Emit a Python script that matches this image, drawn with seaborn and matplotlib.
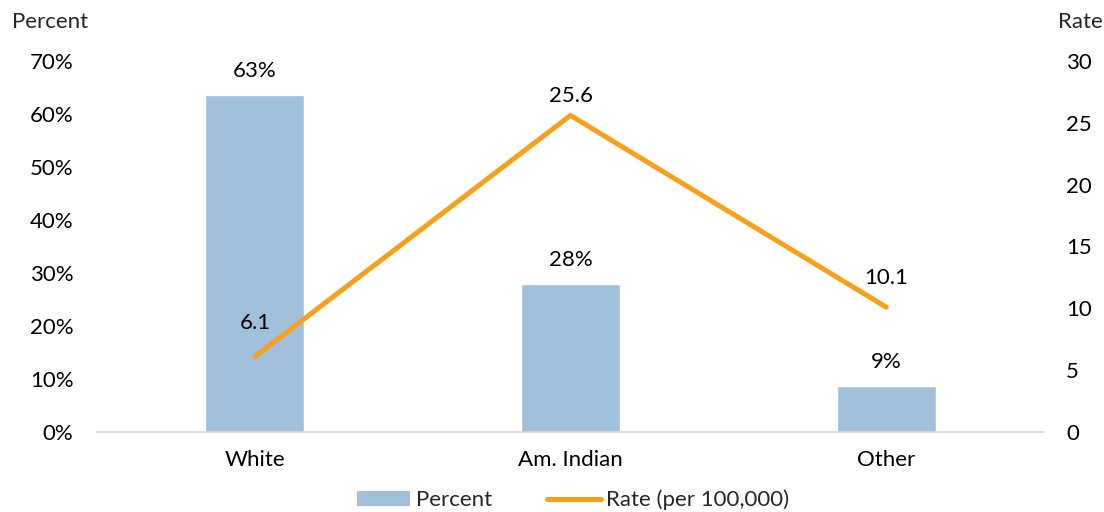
import matplotlib
matplotlib.use("Agg")
import matplotlib.pyplot as plt
import seaborn as sns
import pandas as pd
from matplotlib.patches import Patch
from matplotlib.lines import Line2D
from matplotlib.ticker import FuncFormatter, MultipleLocator

categories = ["White", "Am. Indian", "Other"]
percent_values = [63.6, 27.9, 8.7]
percent_labels = ["63%", "28%", "9%"]
rate_values = [6.1, 25.6, 10.1]
rate_labels = ["6.1", "25.6", "10.1"]

sns.set_theme(style="white")
plt.rcParams['font.family'] = ['Lato', 'DejaVu Sans']

BAR = "#A0C0DC"
LINE = "#F7A11A"
FS = 16

df = pd.DataFrame({"cat": categories, "pct": percent_values, "rate": rate_values})

fig = plt.figure(figsize=(11.04, 5.12), dpi=100)
ax = fig.add_axes([97/1104, 80/512, 947/1104, 371/512])
sns.barplot(data=df, x="cat", y="pct", color=BAR, width=0.313, ax=ax, saturation=1)
ax.set_xlim(-0.5, 2.5)
ax.set_ylim(0, 70)
ax.yaxis.set_major_locator(MultipleLocator(10))
ax.yaxis.set_major_formatter(FuncFormatter(lambda v, p: f"{int(round(v))}%"))
ax.set_xlabel("")
ax.set_ylabel("")
for s in ["top", "right", "left"]:
    ax.spines[s].set_visible(False)
ax.spines["bottom"].set_color("#D9D9D9")
ax.spines["bottom"].set_linewidth(1.2)
ax.tick_params(axis="both", length=0, labelsize=FS, colors="black")
ax.tick_params(axis="y", pad=17)
ax.tick_params(axis="x", pad=13)

for i, (v, lab) in enumerate(zip(percent_values, percent_labels)):
    ax.annotate(lab, (i, v), xytext=(0, 17.5), textcoords="offset points",
                ha="center", va="center", fontsize=FS, color="black")

ax2 = ax.twinx()
sns.lineplot(data=df, x="cat", y="rate", color=LINE, linewidth=3.6, ax=ax2, sort=False)
ax2.set_ylim(0, 30)
ax2.set_xlim(-0.5, 2.5)
ax2.yaxis.set_major_locator(MultipleLocator(5))
ax2.set_ylabel("")
ax2.set_xlabel("")
for s in ["top", "right", "left", "bottom"]:
    ax2.spines[s].set_visible(False)
ax2.tick_params(axis="y", length=0, labelsize=FS, colors="black", pad=16)

rate_offsets = [24, 14, 21]
for i, (v, lab, off) in enumerate(zip(rate_values, rate_labels, rate_offsets)):
    ax2.annotate(lab, (i, v), xytext=(0, off), textcoords="offset points",
                 ha="center", va="center", fontsize=FS, color="black")

fig.text(50/1104, 1 - 22/512, "Percent", ha="center", va="center", fontsize=FS)
fig.text(1080/1104, 1 - 22/512, "Rate", ha="center", va="center", fontsize=FS)

handles = [Patch(facecolor=BAR, edgecolor="none"),
           Line2D([0], [0], color=LINE, linewidth=3.6)]
fig.legend(handles, ["Percent", "Rate (per 100,000)"], loc="center",
           bbox_to_anchor=(573/1104, 1 - 500/512), ncol=2, frameon=False,
           fontsize=FS, handlelength=2.4, handletextpad=0.25, columnspacing=2.5)

fig.savefig("out.png", dpi=100)
